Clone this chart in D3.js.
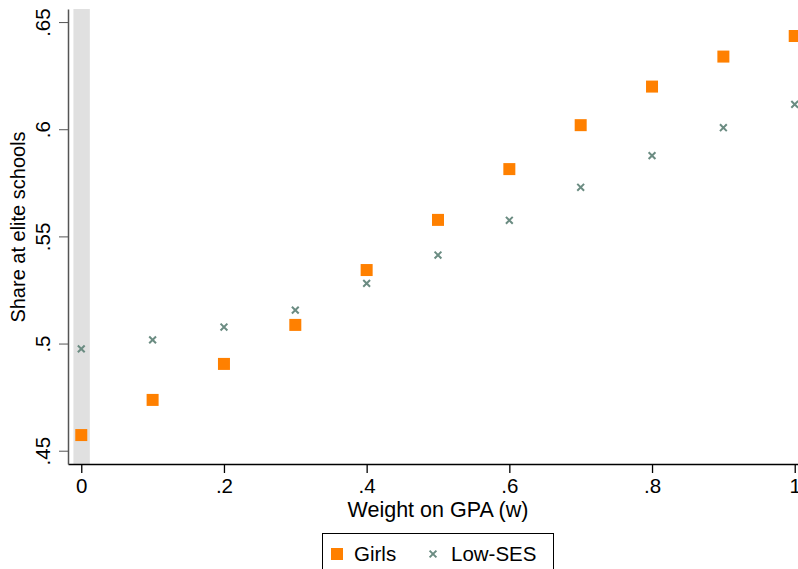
<!DOCTYPE html>
<html>
<head>
<meta charset="utf-8">
<script src="https://cdn.jsdelivr.net/npm/d3@7"></script>
<style>
  body { margin: 0; background: #fff; }
  svg { font-family: "Liberation Sans", Arial, sans-serif; }
</style>
</head>
<body>
<div id="vis"></div>
<script>
const WIDTH = 798;
const HEIGHT = 569;

// data
const weights = [0, 0.1, 0.2, 0.3, 0.4, 0.5, 0.6, 0.7, 0.8, 0.9, 1.0];
const girls = [0.4573, 0.4737, 0.4905, 0.5087, 0.5343, 0.5577, 0.5814, 0.6019, 0.6199, 0.6339, 0.6435];
const lowSES = [0.4975, 0.5017, 0.5077, 0.5156, 0.5281, 0.5413, 0.5575, 0.5729, 0.5877, 0.6007, 0.6116];
const xTicks = [0, 0.2, 0.4, 0.6, 0.8, 1];
const yTicks = [0.45, 0.5, 0.55, 0.6, 0.65];
const band = [-0.011, 0.012];

const margin = { top: 9, right: 0, bottom: 105, left: 68 };

const SVG = d3.select("#vis").append("svg").attr("width", WIDTH).attr("height", HEIGHT);

const w = WIDTH - margin.left - margin.right;
const h = HEIGHT - margin.top - margin.bottom;

const x = d3.scaleLinear().domain([-0.0186, 1.0046]).range([0, w]);
const y = d3.scaleLinear().domain([0.4438, 0.6561]).range([h, 0]);

const fmt = d => d === 0 ? "0" : d === 1 ? "1" : d3.format(".2~f")(d).replace(/^0/, "");

const g = SVG.append("g").attr("transform", "translate(" + margin.left + "," + margin.top + ")");

// shaded band at w = 0
g.append("rect")
  .attr("x", x(band[0]))
  .attr("y", 0)
  .attr("width", x(band[1]) - x(band[0]))
  .attr("height", h)
  .attr("fill", "#e0e0e0");

// axes
const ejeX = d3.axisBottom(x).tickValues(xTicks).tickFormat(fmt).tickSize(9).tickSizeOuter(0);
const ejeY = d3.axisLeft(y).tickValues(yTicks).tickFormat(fmt).tickSize(9).tickSizeOuter(0);

const gx = g.append("g").attr("transform", "translate(0," + h + ")").call(ejeX);
gx.select(".domain").attr("stroke", "#000").attr("stroke-width", 1.5);
gx.selectAll(".tick line").attr("stroke", "#000").attr("stroke-width", 1.3);
gx.selectAll(".tick text").attr("font-size", 20.5).attr("fill", "#000").attr("dy", "0.95em").attr("y", 10);

const gy = g.append("g").call(ejeY);
gy.select(".domain").attr("stroke", "#555").attr("stroke-width", 1.5);
gy.selectAll(".tick line").attr("stroke", "#555").attr("stroke-width", 1);
gy.selectAll(".tick text")
  .attr("font-size", 20.5).attr("fill", "#000")
  .attr("x", null).attr("dy", null)
  .attr("text-anchor", "middle")
  .attr("transform", "translate(-18,0) rotate(-90)");

// axis titles
SVG.append("text")
  .attr("x", margin.left + x(0.5))
  .attr("y", 517)
  .attr("text-anchor", "middle")
  .attr("font-size", 21.5)
  .text("Weight on GPA (w)");

SVG.append("text")
  .attr("transform", "translate(25,227) rotate(-90)")
  .attr("text-anchor", "middle")
  .attr("font-size", 20)
  .text("Share at elite schools");

// points
const sq = 12;
g.selectAll("rect.girls")
  .data(weights.map((d, i) => [d, girls[i]]))
  .join("rect")
  .attr("class", "girls")
  .attr("x", d => x(d[0]) - sq / 2)
  .attr("y", d => y(d[1]) - sq / 2)
  .attr("width", sq)
  .attr("height", sq)
  .attr("fill", "#ff8000");

const cross = d3.symbol().type(d3.symbolTimes).size(32);
g.selectAll("path.lowses")
  .data(weights.map((d, i) => [d, lowSES[i]]))
  .join("path")
  .attr("class", "lowses")
  .attr("d", cross)
  .attr("transform", d => "translate(" + x(d[0]) + "," + y(d[1]) + ")")
  .attr("fill", "none")
  .attr("stroke", "#6b8c82")
  .attr("stroke-width", 2);

// legend
const lg = SVG.append("g");
lg.append("rect")
  .attr("x", 322.5).attr("y", 533.5)
  .attr("width", 231).attr("height", 50)
  .attr("fill", "#fff").attr("stroke", "#000").attr("stroke-width", 1);
lg.append("rect")
  .attr("x", 331).attr("y", 548).attr("width", sq).attr("height", sq)
  .attr("fill", "#ff8000");
lg.append("text").attr("x", 354).attr("y", 561).attr("font-size", 20.5).text("Girls");
lg.append("path")
  .attr("d", cross)
  .attr("transform", "translate(433,554)")
  .attr("fill", "none")
  .attr("stroke", "#6b8c82")
  .attr("stroke-width", 2);
lg.append("text").attr("x", 451).attr("y", 561).attr("font-size", 20.5).text("Low-SES");
</script>
</body>
</html>
